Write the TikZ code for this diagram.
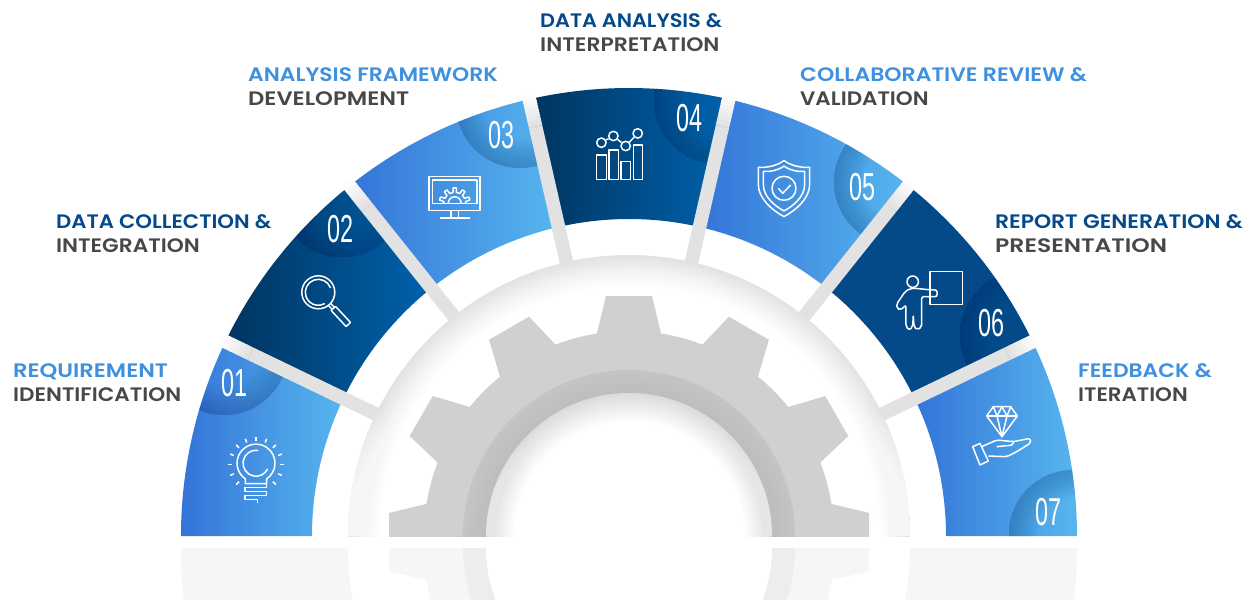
\documentclass[tikz,border=0pt]{standalone}
\usepackage{fontspec}
\setmainfont{Poppins}[UprightFont=* SemiBold, FakeStretch=1.12]
\newfontfamily\numfont[FakeStretch=0.6]{Liberation Sans}
\definecolor{lightblueA}{HTML}{3474D8}
\definecolor{lightblueB}{HTML}{57B6EE}
\definecolor{darkblueA}{HTML}{00345F}
\definecolor{darkblueB}{HTML}{0062AD}
\definecolor{flatblue}{HTML}{044A88}
\definecolor{rimblue}{HTML}{001F55}
\definecolor{labelblue}{HTML}{4090E0}
\definecolor{labeldark}{HTML}{04498A}
\definecolor{labelgrey}{HTML}{484848}
\definecolor{bargrey}{HTML}{E2E2E2}
\definecolor{gearcolor}{HTML}{D0D0D0}
\newcommand{\J}{7}
\newcommand{\JA}{180/\J}
\newcommand{\RO}{448}
\newcommand{\RI}{317}
\newcommand{\sectorpath}[2]{(#1:\RO) arc [start angle=#1, end angle=#2, radius=\RO] -- (#2:\RI) arc [start angle=#2, end angle=#1, radius=\RI] -- cycle}
\newcommand{\gearpath}{(-5.5:241) \foreach \X in {0,...,11}{
    -- ({\X*30-5.5}:241) -- ({\X*30+5.5}:241) -- ({\X*30+9}:205)
    arc [start angle={\X*30+9}, end angle={\X*30+21}, radius=205]
  } -- cycle}
\pgfdeclareradialshading{bandshade}{\pgfpoint{0bp}{0bp}}{color(0bp)=(white); color(22.2bp)=(white); color(23.4bp)=(white!65!bargrey); color(25bp)=(bargrey); color(50bp)=(bargrey)}
\pgfdeclareradialshading{holeshade}{\pgfpoint{0bp}{0bp}}{color(0bp)=(white); color(20bp)=(white); color(25bp)=(white!86!black); color(50bp)=(white!86!black)}
\pgfdeclareradialshading{ringshade}{\pgfpoint{0bp}{0bp}}{color(0bp)=(white!74.5!black); color(22bp)=(white!74.5!black); color(25bp)=(white!77!black); color(50bp)=(white!77!black)}
\tikzset{
  icon/.style={draw=white, line width=1.5pt, line join=round},
  label/.style={anchor=base west, inner sep=0pt, font=\fontsize{19.5}{19.5}\selectfont},
  number/.style={text=white, inner sep=0pt, font=\numfont\fontsize{39}{39}\selectfont}
}

\begin{document}
\begin{tikzpicture}[x=1pt,y=1pt]
  \useasboundingbox (-629,-64) rectangle (625,536);
  \path (0:0) coordinate (O); % centre of the half wheel

  % the seven blue sectors
  \foreach \K/\CL/\CR in {1/lightblueA/lightblueB,2/darkblueA/darkblueB,3/lightblueA/lightblueB,4/darkblueA/darkblueB,5/lightblueA/lightblueB,6/flatblue/flatblue,7/lightblueA/lightblueB}{
    \pgfmathsetmacro{\AS}{180-(\K-1)*\JA}
    \pgfmathsetmacro{\AE}{180-\K*\JA}
    \shade [left color=\CL, right color=\CR] \sectorpath{\AS}{\AE};
  }

  % darker rim of the number circles
  \foreach \K/\CX/\CY in {1/-405/185,2/-287/343,3/-109/432,4/89/436,5/269/354,6/395/201,7/444/2}{
    \pgfmathsetmacro{\AS}{180-(\K-1)*\JA}
    \pgfmathsetmacro{\AE}{180-\K*\JA}
    \begin{scope}
      \clip \sectorpath{\AS}{\AE};
      \foreach \Q in {36,38,...,62}{
        \fill [rimblue, opacity=0.016, even odd rule] (\CX,\CY) circle (64) (\CX,\CY) circle (\Q);
      }
    \end{scope}
  }

  % grey bars between the sectors, white towards the outer end
  \foreach \X in {1,...,6}{
    \begin{scope}[rotate=\X*\JA]
      \fill [bargrey] (270,-6.8) rectangle (420,6.8);
      \foreach \Q in {0,10,...,90}{
        \fill [white!\Q!bargrey] (420+0.31*\Q,-6.8) rectangle (424+0.31*\Q,6.8);
      }
    \end{scope}
  }

  % band round the gear
  \begin{scope}
    \clip (-300,0) rectangle (300,300);
    \shade [shading=bandshade, even odd rule] (0,0) circle (281) (0,0) circle (243);
  \end{scope}
  \begin{scope}
    \clip (0:281) arc [start angle=0, end angle=180, radius=281] -- (180:243) arc [start angle=180, end angle=0, radius=243] -- cycle;
    \foreach \Y in {6,12,...,120}{
      \fill [white, opacity=0.1] (-300,0) rectangle (300,\Y);
    }
  \end{scope}

  % gear and its hole
  \begin{scope}
    \clip (-300,0) rectangle (300,300);
    \fill [gearcolor] \gearpath;
    \shade [shading=ringshade] (0,0) circle (166);
    \shade [shading=holeshade] (0,0) circle (143);
    \begin{scope}
      \clip (0,0) circle (143);
      \foreach \Y in {6,12,...,90}{
        \fill [white, opacity=0.04] (-300,0) rectangle (300,\Y);
      }
    \end{scope}
  \end{scope}

  % faint mirror image under the base line
  \begin{scope}
    \clip (-629,-12) rectangle (625,-64);
    \begin{scope}[yscale=-1, yshift=12]
      \fill [white!96.5!black, even odd rule] (0,0) circle (\RO) (0,0) circle (281);
      \fill [white!96.5!black] \gearpath;
      \fill [white!93!black] (0,0) circle (166);
      \fill [white] (0,0) circle (143);
    \end{scope}
    \foreach \Y in {-60,-56,...,-16}{
      \fill [white, opacity=0.04] (-629,-64) rectangle (625,\Y);
    }
  \end{scope}

  % step numbers
  \foreach \K/\X/\Y/\T in {1/-394/153/01,2/-288/307/02,3/-127.3/401/03,4/60.3/417.7/04,5/233.3/348.7/05,6/362.3/212.7/06,7/419.3/24.3/07}{
    \path (\X,\Y) node (N\K) [number] {\T};
  }

  % lamp
  \begin{scope}[shift={(-373,71.3)}]
    \foreach \A in {-45,-22.5,...,225}{
      \draw [icon] (\A:24) -- (\A:28);
    }
    \draw [icon] (-10.6,-14.2) arc [start angle=236, end angle=-56, radius=19] -- (10.6,-19) -- (-10.6,-19) -- cycle;
    \draw [icon] (10.7,-19) -- (10.7,-23) -- (-11,-23) -- (-11,-27) -- (10.7,-27) -- (10.7,-31) -- (-11,-31) -- (-11,-35) -- (1.3,-35) -- (1.3,-38);
    \draw [icon] (80:13) ++(0,1.5) arc [start angle=80, end angle=334, radius=13];
  \end{scope}

  % magnifier
  \begin{scope}[shift={(-310.7,243.7)}]
    \draw [icon] (0,0) circle (16.5);
    \draw [icon] (20:13) arc [start angle=20, end angle=300, radius=13];
    \begin{scope}[rotate=-47]
      \draw [icon] (22,-3) rectangle (44,3);
      \draw [icon] (16.5,-1.5) -- (22,-1.5) (16.5,1.5) -- (22,1.5);
    \end{scope}
  \end{scope}

  % monitor with gear
  \begin{scope}[shift={(-174.3,339)}]
    \draw [icon] (-25.5,-13.7) rectangle (25.5,20.3);
    \draw [icon] (-22.2,-6.3) rectangle (22.2,17);
    \draw [icon] (-3.7,-13.7) -- (-3.7,-21) (3.7,-13.7) -- (3.7,-21);
    \draw [icon] (-15,-21) -- (15,-21);
    \begin{scope}[shift={(0,-6.3)}]
      \draw [icon] (0:11) \foreach \A in {18,54,90,126,162}{
        -- ({\A-9}:11) -- ({\A-6}:15.5) -- ({\A+6}:15.5) -- ({\A+9}:11)
      } -- (180:11);
      \draw [icon] (0:6.5) arc [start angle=0, end angle=180, radius=6.5];
    \end{scope}
  \end{scope}

  % chart
  \begin{scope}[shift={(-9.3,379.3)}]
    \draw [icon] (-23,-22.7) rectangle (-13,1.7);
    \draw [icon] (-10.7,-22.7) rectangle (-1.3,6.7);
    \draw [icon] (1.3,-22.7) rectangle (11,-5);
    \draw [icon] (13.7,-22.7) rectangle (23,11.7);
    \foreach \K/\X/\Y in {1/-18.3/14,2/-6.3/20.7,3/6/10.7,4/18/23.3}{
      \path (\X,\Y) node (C\K) [icon, circle, inner sep=0pt, minimum size=9.4pt] {};
    }
    \draw [icon] (C1) -- (C2);
    \draw [icon] (C2) -- (C3);
    \draw [icon] (C3) -- (C4);
  \end{scope}

  % shield
  \begin{scope}[shift={(155,347.7)}]
    \foreach \S in {1,0.8}{
      \draw [icon, scale=\S] (0,27.7) .. controls (-8,22) and (-18,20.5) .. (-25.7,21) -- (-25.7,4) .. controls (-25.7,-10) and (-12,-22) .. (0,-28.3) .. controls (12,-22) and (25.7,-10) .. (25.7,4) -- (25.7,21) .. controls (18,20.5) and (8,22) .. cycle;
    }
    \draw [icon] (0,0) circle (12);
    \draw [icon] (-5.7,0) -- (-1.3,-5) -- (6.7,3.3);
  \end{scope}

  % presenter
  \begin{scope}[shift={(301,236)}]
    \draw [icon] (-17.3,18.3) circle (5.7);
    \draw [icon] (0,-4.3) rectangle (32.7,28.3);
    \draw [icon, rounded corners=2pt] (-15,11.7) -- (1.7,10) -- (7,10) -- (7,3.3) -- (-8.3,3.3) -- (-8.3,-26.7) -- (-12.7,-30) -- (-16,-26.7) -- (-16.7,-15) -- (-17.3,-26.7) -- (-20.7,-30) -- (-24,-26.7) -- (-24,-5) -- (-29.3,-10) -- (-33.3,-8.3) -- (-33.3,-4) -- (-25,8.3) -- (-20,11.3) -- cycle;
  \end{scope}

  % diamond over a hand
  \begin{scope}[shift={(373,99.3)}]
    \draw [icon] (-8.7,30) -- (8.7,30) -- (15.3,20.7) -- (0,0) -- (-15.3,20.7) -- cycle;
    \draw [icon] (-15.3,20.7) -- (15.3,20.7);
    \draw [icon] (-8.7,30) -- (-5,20.7) -- (0,30) -- (5,20.7) -- (8.7,30);
    \draw [icon] (-5,20.7) -- (0,0) -- (5,20.7);
    \draw [icon] (-29.3,-10) -- (-22,-6.7) -- (-13.7,-24.3) -- (-22,-28.3) -- cycle;
    \draw [icon, rounded corners=2pt] (-20.3,-10) -- (-5.3,-3.3) -- (11.3,-5) -- (28,-1.7) -- (29,-6) -- (14.7,-15) -- (4.7,-20) -- (-13.7,-19.3);
    \draw [icon, rounded corners=2pt] (-5.3,-10) -- (11.3,-8.3) -- (11.3,-5);
  \end{scope}

  % labels of the steps, second factor of each line fits its width
  \foreach \K/\X/\Y/\C/\TA/\SA/\TB/\SB in {
    1/-616/158/labelblue/REQUIREMENT/1.034/IDENTIFICATION/0.988,
    2/-573/307/labeldark/DATA COLLECTION \&/0.973/INTEGRATION/0.993,
    3/-381/454/labelblue/ANALYSIS FRAMEWORK/1/DEVELOPMENT/1.04,
    4/-89/508/labeldark/DATA ANALYSIS \&/0.953/INTERPRETATION/1,
    5/171/454/labelblue/COLLABORATIVE REVIEW \&/1.007/VALIDATION/0.985,
    6/366/307/labeldark/REPORT GENERATION \&/1/PRESENTATION/1.075,
    7/449/158/labelblue/FEEDBACK \&/1/ITERATION/0.98}{
    \path (\X,\Y) node (L\K) [label, text=\C] {\scalebox{\SA}[1]{\TA}};
    \path (\X,\Y-24) node (M\K) [label, text=labelgrey] {\scalebox{\SB}[1]{\TB}};
  }
\end{tikzpicture}
\end{document}
